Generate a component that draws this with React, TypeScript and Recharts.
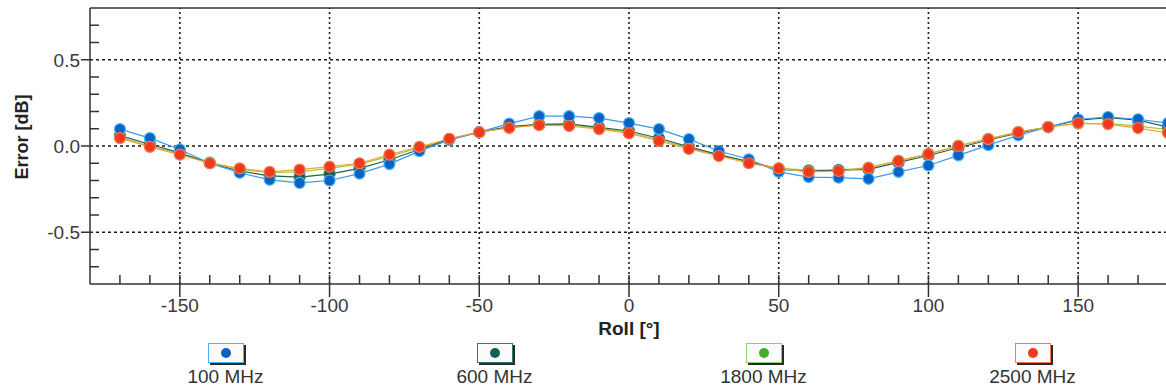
import React from "react";
import { LineChart, Line, XAxis, YAxis, ReferenceLine } from "recharts";

const rollAngles = [
  -170, -160, -150, -140, -130, -120, -110, -100, -90, -80, -70, -60, -50, -40, -30, -20, -10, 0,
  10, 20, 30, 40, 50, 60, 70, 80, 90, 100, 110, 120, 130, 140, 150, 160, 170, 180,
];

const err100 = [
  0.098, 0.046, -0.02, -0.1, -0.155, -0.196, -0.214, -0.2, -0.16, -0.105, -0.03, 0.035, 0.08, 0.13, 0.173, 0.173, 0.162, 0.133,
  0.098, 0.04, -0.029, -0.077, -0.15, -0.18, -0.183, -0.19, -0.15, -0.113, -0.054, 0.005, 0.062, 0.11, 0.155, 0.168, 0.155, 0.133,
];
const err600 = [
  0.06, 0.01, -0.04, -0.1, -0.145, -0.173, -0.18, -0.163, -0.13, -0.08, -0.02, 0.038, 0.08, 0.112, 0.125, 0.128, 0.108, 0.087,
  0.045, -0.005, -0.05, -0.09, -0.135, -0.145, -0.14, -0.135, -0.095, -0.055, -0.01, 0.035, 0.075, 0.11, 0.15, 0.165, 0.15, 0.11,
];
const err1800 = [
  0.05, 0.0, -0.045, -0.095, -0.135, -0.155, -0.15, -0.13, -0.105, -0.06, -0.01, 0.04, 0.08, 0.108, 0.125, 0.122, 0.102, 0.08,
  0.035, -0.012, -0.055, -0.095, -0.13, -0.14, -0.14, -0.125, -0.085, -0.045, 0.002, 0.042, 0.082, 0.11, 0.13, 0.13, 0.115, 0.095,
];
const err2500 = [
  0.046, -0.005, -0.05, -0.1, -0.13, -0.15, -0.137, -0.12, -0.1, -0.05, -0.005, 0.042, 0.08, 0.105, 0.121, 0.116, 0.098, 0.073,
  0.029, -0.017, -0.058, -0.1, -0.13, -0.15, -0.145, -0.127, -0.087, -0.047, 0.0, 0.04, 0.08, 0.11, 0.133, 0.127, 0.104, 0.076,
];

const xMinorTicks = [
  -170, -160, -150, -140, -130, -120, -110, -100, -90, -80, -70, -60, -50, -40, -30, -20, -10, 0,
  10, 20, 30, 40, 50, 60, 70, 80, 90, 100, 110, 120, 130, 140, 150, 160, 170,
];
const xLabelTicks = [-150, -100, -50, 0, 50, 100, 150];
const yMinorTicks = [-0.7, -0.6, -0.5, -0.4, -0.3, -0.2, -0.1, 0, 0.1, 0.2, 0.3, 0.4, 0.5, 0.6, 0.7];
const yLabelTicks = [-0.5, 0, 0.5];

// drawn in this order so the red 2500 MHz markers end up on top, as in the original
const series = [
  { key: "f1800", name: "1800 MHz", values: err1800, line: "#9ccc3c", dot: "#3fae2a", halo: "#8fd070" },
  { key: "f600", name: "600 MHz", values: err600, line: "#2a5e4c", dot: "#15605a", halo: "#2f7a70" },
  { key: "f100", name: "100 MHz", values: err100, line: "#3a9ae8", dot: "#0a62c4", halo: "#49b4f5" },
  { key: "f2500", name: "2500 MHz", values: err2500, line: "#f2a23a", dot: "#f03a1e", halo: "#f77a50" },
];
const legendOrder = ["f100", "f600", "f1800", "f2500"];

const data = rollAngles.map((roll, i) => {
  const row: Record<string, number> = { roll };
  series.forEach((s) => (row[s.key] = s.values[i]));
  return row;
});

const FONT = "'Liberation Sans', Arial, sans-serif";
const AXIS = "#333";

const XTick = (props: any) => {
  const { x, y, payload } = props;
  const major = xLabelTicks.includes(payload.value);
  return (
    <g>
      <line x1={x} x2={x} y1={y - 9} y2={major ? y + 13 : y} stroke={AXIS} strokeWidth={1.5} />
      {major && (
        <text x={x} y={y + 28} textAnchor="middle" fill="#3a3a3a" fontSize={19} fontFamily={FONT}>
          {payload.value}
        </text>
      )}
    </g>
  );
};

const YTick = (props: any) => {
  const { x, y, payload } = props;
  const major = yLabelTicks.some((v) => Math.abs(v - payload.value) < 1e-6);
  return (
    <g>
      {major ? (
        <>
          <line x1={x - 9} x2={x} y1={y} y2={y} stroke={AXIS} strokeWidth={1.5} />
          <text x={x - 10} y={y + 7} textAnchor="end" fill="#3a3a3a" fontSize={19} fontFamily={FONT}>
            {payload.value.toFixed(1)}
          </text>
        </>
      ) : (
        <line x1={x} x2={x + 9} y1={y} y2={y} stroke={AXIS} strokeWidth={1.5} />
      )}
    </g>
  );
};

const YLabel = (props: any) => {
  const vb = props.viewBox;
  const cx = vb.x + 22;
  const cy = vb.y + vb.height / 2 - 9;
  return (
    <text
      x={cx}
      y={cy}
      transform={`rotate(-90, ${cx}, ${cy})`}
      textAnchor="middle"
      dominantBaseline="central"
      fontSize={18}
      fontWeight="bold"
      fill="#222"
      fontFamily={FONT}
    >
      Error [dB]
    </text>
  );
};

export default function App() {
  return (
    <div style={{ position: "absolute", left: 0, top: 0, width: 1166, height: 390, overflow: "hidden", background: "#fff" }}>
      <LineChart width={1170} height={390} data={data} margin={{ top: 8, right: 2, left: 0, bottom: 0 }}>
        <XAxis
          dataKey="roll"
          type="number"
          domain={[-180, 180]}
          ticks={xMinorTicks}
          interval={0}
          tickSize={0}
          tickMargin={0}
          tick={<XTick />}
          height={106}
          axisLine={{ stroke: AXIS, strokeWidth: 1.5 }}
          label={{ value: "Roll [°]", position: "insideTop", offset: 38, fontSize: 19, fontWeight: "bold", fill: "#222", fontFamily: FONT }}
        />
        <YAxis
          type="number"
          domain={[-0.8, 0.8]}
          ticks={yMinorTicks}
          interval={0}
          tickSize={0}
          tickMargin={0}
          tick={<YTick />}
          width={90}
          axisLine={{ stroke: AXIS, strokeWidth: 1.5 }}
          label={<YLabel />}
        />
        <ReferenceLine y={0.8} stroke={AXIS} strokeWidth={1.5} />
        {yLabelTicks.map((v) => (
          <ReferenceLine key={`h${v}`} y={v} stroke="#1a1a1a" strokeWidth={1.6} strokeDasharray="3 3" />
        ))}
        {xLabelTicks.map((v) => (
          <ReferenceLine key={`v${v}`} x={v} stroke="#1a1a1a" strokeWidth={1.6} strokeDasharray="2 3" />
        ))}
        {series.map((s) => (
          <Line
            key={s.key}
            dataKey={s.key}
            name={s.name}
            type="linear"
            stroke={s.line}
            strokeWidth={1.2}
            dot={{ r: 5.5, fill: s.dot, stroke: s.halo, strokeWidth: 1.2 }}
            activeDot={false}
            isAnimationActive={false}
          />
        ))}
      </LineChart>
      <div style={{ position: "absolute", left: 91, top: 343, width: 1076, display: "flex" }}>
        {legendOrder.map((k) => {
          const s = series.find((x) => x.key === k)!;
          return (
            <div key={k} style={{ width: 269, display: "flex", flexDirection: "column", alignItems: "center" }}>
              <div
                style={{
                  width: 34,
                  height: 18,
                  border: `1px solid ${s.halo}`,
                  boxShadow: "2px 2px 0 #2a2a2a",
                  background: "#fbfbfb",
                  display: "flex",
                  alignItems: "center",
                  justifyContent: "center",
                }}
              >
                <div style={{ width: 10, height: 10, borderRadius: 5, background: s.dot }} />
              </div>
              <div style={{ fontFamily: FONT, fontSize: 19, color: "#333", lineHeight: "22px", marginTop: 3 }}>{s.name}</div>
            </div>
          );
        })}
      </div>
    </div>
  );
}
